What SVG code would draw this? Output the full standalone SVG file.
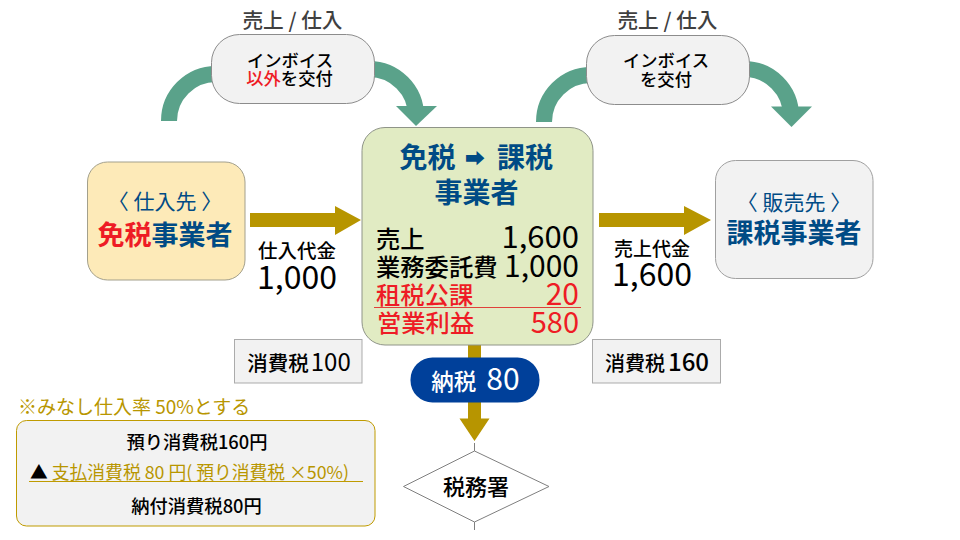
<svg xmlns="http://www.w3.org/2000/svg" width="960" height="540" viewBox="0 0 960 540">
<style>
text{font-family:"Noto Sans CJK JP","Noto Sans",sans-serif;text-anchor:middle;fill:#000;font-weight:500}
.b{font-weight:700;fill:#004b85}
.r{fill:#ee1c25}
.g{fill:#b89600}
.e{text-anchor:end;font-weight:400}
.s{text-anchor:start}
.l{font-weight:400}
.curve{fill:none;stroke:#5aa28a;stroke-width:16}
.head{fill:#5aa28a}
.au{fill:#b79500}
.grey{fill:#f2f2f2;stroke:#8c8c8c;stroke-width:1}
.tax{fill:#f2f2f2;stroke:#ababab;stroke-width:1}
.top{fill:#404040;font-size:20.700px}
.sub{fill:#004b85;font-size:21px;font-weight:400}
.num{font-size:32px;font-weight:400}
</style>
<rect width="960" height="540" fill="#fff"/>
<g id="connectors">
<path class="curve" d="M169,121A47,47 0 0 1 216,74"/>
<path class="curve" d="M369,69A47,47 0 0 1 416,116"/>
<polygon class="head" points="396,106 437,106 416,126"/>
<path class="curve" d="M544,122A47,47 0 0 1 591,75"/>
<path class="curve" d="M744,69A47,47 0 0 1 791,116"/>
<polygon class="head" points="771,106.500 812,106.500 791.500,127"/>
<polygon class="au" points="250,213 335,213 335,206 361,220 335,235 335,227 250,227"/>
<polygon class="au" points="599,213 684,213 684,206 711,220 684,235 684,227 599,227"/>
<polygon class="au" points="468,345 481,345 481,418.500 489.500,418.500 474.500,441 459.500,418.500 468,418.500"/>
<path d="M474.500,443V451M474.500,522V530" stroke="#7f7f7f" fill="none"/>
</g>
<g id="label-top-left"><text class="top" x="292.500" y="28">売上 / 仕入</text></g>
<g id="label-top-right"><text class="top" x="667.500" y="28">売上 / 仕入</text></g>
<g id="invoice-left">
<rect class="grey" x="211.500" y="34.500" width="163" height="69" rx="28"/>
<text x="290" y="66.500" font-size="17.300">インボイス</text>
<text x="289.500" y="85" font-size="17.300"><tspan class="r">以外</tspan>を交付</text>
</g>
<g id="invoice-right">
<rect class="grey" x="586.500" y="35.500" width="163" height="69" rx="28"/>
<text x="666" y="67" font-size="17.300">インボイス</text>
<text x="666" y="86" font-size="17.300">を交付</text>
</g>
<g id="supplier">
<rect class="grey" x="87.500" y="162" width="157.500" height="118" rx="20" style="fill:#fdeab8;stroke:#a3a08c"/>
<text class="sub" x="165" y="209">〈 仕入先 〉</text>
<text x="165" y="245" font-size="27" class="b"><tspan class="r">免税</tspan>事業者</text>
</g>
<g id="center">
<rect class="grey" x="362" y="127.500" width="231" height="217.500" rx="23" style="fill:#e1ebc3;stroke:#8f9488"/>
<text class="b s" y="168" font-size="28"><tspan x="399.500">免税</tspan><tspan x="465" font-size="20" dy="-2">➡</tspan><tspan x="497" dy="2">課税</tspan></text>
<text x="476.500" y="203" font-size="28" class="b">事業者</text>
<text class="s" x="376" y="248" font-size="24.300">売上</text>
<text class="e" x="579" y="248" font-size="31">1,600</text>
<text class="s" x="376" y="276" font-size="24.300">業務委託費</text>
<text class="e" x="579" y="277" font-size="30">1,000</text>
<text class="s r" x="376" y="304" font-size="24.300">租税公課</text>
<text class="e r" x="579" y="305" font-size="30">20</text>
<line x1="374" y1="307.500" x2="581" y2="307.500" stroke="#e0403a"/>
<text class="s r" x="377" y="332" font-size="24.300">営業利益</text>
<text class="e r" x="579" y="333" font-size="29">580</text>
</g>
<g id="customer">
<rect class="grey" x="715.500" y="160.500" width="157.500" height="118" rx="20" style="stroke:#a0a0a0"/>
<text class="sub" x="794" y="210">〈 販売先 〉</text>
<text x="794" y="243" font-size="27" class="b">課税事業者</text>
</g>
<g id="purchase-label">
<text x="297" y="258" font-size="19.500">仕入代金</text>
<text class="num" x="297" y="289">1,000</text>
</g>
<g id="sales-label">
<text x="652" y="256" font-size="19">売上代金</text>
<text class="num" x="652" y="286">1,600</text>
</g>
<g id="tax-100">
<rect class="tax" x="234.500" y="339.500" width="127.500" height="43.500"/>
<text x="299" y="371" font-size="20.500">消費税<tspan font-size="24" font-weight="400" dx="2">100</tspan></text>
</g>
<g id="tax-160">
<rect class="tax" x="592.500" y="339.500" width="128" height="43.500"/>
<text x="657" y="371" font-size="20">消費税<tspan font-size="24" dx="3">160</tspan></text>
</g>
<g id="pay-tax">
<rect x="410.500" y="357.500" width="129" height="45" rx="22" fill="#00409a"/>
<text x="475.500" y="390" font-size="22.500" style="fill:#fff">納税<tspan font-size="30" font-weight="400" dx="10">80</tspan></text>
</g>
<g id="tax-office">
<polygon points="403.500,486.500 474.500,451 549,486.500 474.500,522" fill="#fff" stroke="#7f7f7f"/>
<text x="476" y="495" font-size="22">税務署</text>
</g>
<g id="note">
<text class="s g l" x="18" y="414" font-size="19">※みなし仕入率 50%とする</text>
<rect x="16.500" y="420.500" width="358.500" height="105.500" rx="10" fill="#f2f2f2" stroke="#bf9b00"/>
<text x="197" y="449" font-size="18.300">預り消費税160円</text>
<text class="s l" x="30" y="479" font-size="17.800">▲<tspan class="g"> 支払消費税 80 円( 預り消費税 ×50%)</tspan></text>
<line x1="29" y1="481.500" x2="363" y2="481.500" stroke="#bf9b00" stroke-width="1.200"/>
<text x="196.500" y="513" font-size="18.300">納付消費税80円</text>
</g>
</svg>
